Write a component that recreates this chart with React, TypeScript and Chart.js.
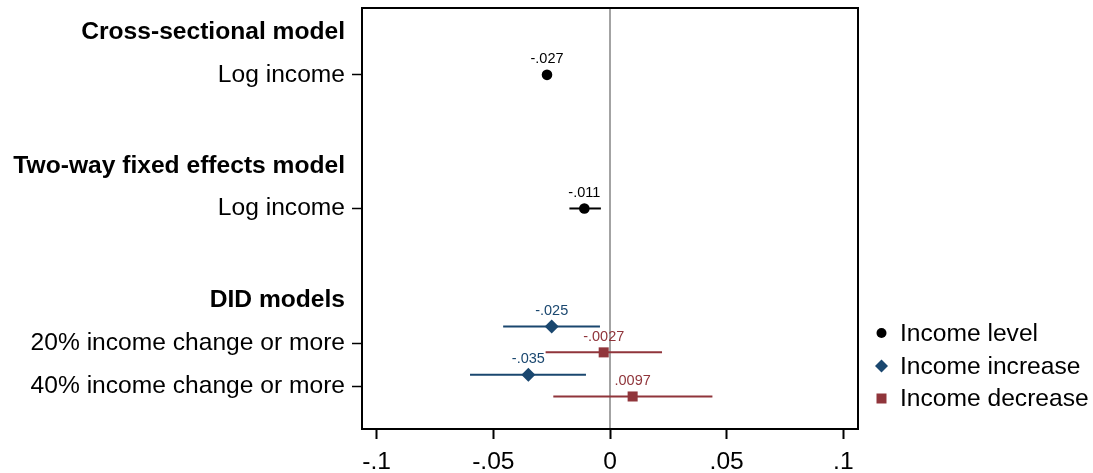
import React, { useEffect, useRef } from 'react';
import { Chart, registerables } from 'chart.js';

Chart.register(...registerables);

// ---- Data ----
const rowLabels = [
  'Cross-sectional model',
  'Log income',
  'Two-way fixed effects model',
  'Log income',
  'DID models',
  '20% income change or more',
  '40% income change or more',
];
const rowPositions = [0.55, 1.5, 3.55, 4.5, 6.55, 7.52, 8.5];
const headerRows = [true, false, true, false, true, false, false];

const xTickValues = [-0.1, -0.05, 0, 0.05, 0.1];
const xTickLabels = ['-.1', '-.05', '0', '.05', '.1'];

const levelRows = [1.5, 4.5];
const levelEst = [-0.027, -0.011];
const levelLo = [-0.0288, -0.0174];
const levelHi = [-0.0252, -0.0039];

const increaseRows = [7.15, 8.23];
const increaseEst = [-0.025, -0.035];
const increaseLo = [-0.0458, -0.06];
const increaseHi = [-0.0043, -0.0103];

const decreaseRows = [7.73, 8.72];
const decreaseEst = [-0.0027, 0.0097];
const decreaseLo = [-0.0276, -0.0243];
const decreaseHi = [0.0223, 0.0439];

const seriesNames = ['Income level', 'Income increase', 'Income decrease'];
const seriesColors = ['#000000', '#1a476f', '#90353b'];
const seriesStyles = ['circle', 'rectRot', 'rect'];
const seriesRadius = [5.3, 7, 7.1];

const FONT = "Arial, 'Liberation Sans', sans-serif";
const FS = 24.6;

const fmt = (v: number) => String(v).replace('0.', '.');

const drawMarker = (ctx: CanvasRenderingContext2D, style: string, x: number, y: number, r: number) => {
  ctx.beginPath();
  if (style === 'circle') {
    ctx.arc(x, y, r, 0, Math.PI * 2);
  } else if (style === 'rectRot') {
    ctx.moveTo(x, y - r);
    ctx.lineTo(x + r, y);
    ctx.lineTo(x, y + r);
    ctx.lineTo(x - r, y);
    ctx.closePath();
  } else {
    ctx.rect(x - r, y - r, 2 * r, 2 * r);
  }
  ctx.fill();
};

const ciPlugin = {
  id: 'ciPlugin',
  beforeDatasetsDraw(chart: any) {
    const { ctx, chartArea, scales } = chart;
    const xs = scales.x;
    const ys = scales.y;
    ctx.save();
    const x0 = xs.getPixelForValue(0);
    ctx.strokeStyle = '#a3a3a3';
    ctx.lineWidth = 2;
    ctx.beginPath();
    ctx.moveTo(x0, chartArea.top);
    ctx.lineTo(x0, chartArea.bottom);
    ctx.stroke();
    chart.data.datasets.forEach((ds: any) => {
      ctx.strokeStyle = ds.borderColor;
      ctx.lineWidth = 2;
      ds.data.forEach((p: any, i: number) => {
        const y = ys.getPixelForValue(p.y);
        ctx.beginPath();
        ctx.moveTo(xs.getPixelForValue(ds.lo[i]), y);
        ctx.lineTo(xs.getPixelForValue(ds.hi[i]), y);
        ctx.stroke();
      });
    });
    ctx.restore();
  },
  afterDatasetsDraw(chart: any) {
    const { ctx, scales } = chart;
    ctx.save();
    ctx.font = `14.5px ${FONT}`;
    ctx.textAlign = 'center';
    ctx.textBaseline = 'middle';
    chart.data.datasets.forEach((ds: any) => {
      ctx.fillStyle = ds.borderColor;
      ds.data.forEach((p: any) => {
        const x = scales.x.getPixelForValue(p.x);
        const y = scales.y.getPixelForValue(p.y);
        ctx.fillText(fmt(p.x), x, y - 15.5);
      });
    });
    ctx.restore();
  },
  afterDraw(chart: any) {
    const { ctx, chartArea } = chart;
    ctx.save();
    ctx.strokeStyle = '#000';
    ctx.lineWidth = 2;
    ctx.strokeRect(chartArea.left, chartArea.top, chartArea.right - chartArea.left, chartArea.bottom - chartArea.top);
    const lx = 881.5;
    const tx = 900;
    const ly = [333, 366, 398.5];
    const lr = [5, 6.5, 5];
    ctx.font = `${FS}px ${FONT}`;
    ctx.textAlign = 'left';
    ctx.textBaseline = 'middle';
    seriesNames.forEach((name, i) => {
      ctx.fillStyle = seriesColors[i];
      drawMarker(ctx, seriesStyles[i], lx, ly[i], lr[i]);
      ctx.fillStyle = '#000';
      ctx.fillText(name, tx, ly[i] + 1);
    });
    ctx.restore();
  },
};

export default function App() {
  const ref = useRef<HTMLCanvasElement>(null);
  useEffect(() => {
    if (!ref.current) return;
    const mk = (rows: number[], est: number[]) => est.map((v, i) => ({ x: v, y: rows[i] }));
    const datasets: any[] = [
      { label: seriesNames[0], data: mk(levelRows, levelEst), lo: levelLo, hi: levelHi },
      { label: seriesNames[1], data: mk(increaseRows, increaseEst), lo: increaseLo, hi: increaseHi },
      { label: seriesNames[2], data: mk(decreaseRows, decreaseEst), lo: decreaseLo, hi: decreaseHi },
    ].map((d, i) => ({
      ...d,
      backgroundColor: seriesColors[i],
      borderColor: seriesColors[i],
      pointStyle: seriesStyles[i],
      pointRadius: seriesRadius[i],
      pointBorderWidth: 0,
      showLine: false,
    }));

    const chart = new Chart(ref.current, {
      type: 'scatter',
      data: { datasets },
      options: {
        animation: false,
        responsive: false,
        events: [],
        layout: { padding: { top: 8, right: 235, left: 0, bottom: 0 } },
        plugins: { legend: { display: false }, tooltip: { enabled: false } },
        scales: {
          x: {
            type: 'linear',
            min: -0.1063,
            max: 0.1063,
            afterBuildTicks: (s: any) => {
              s.ticks = xTickValues.map((v) => ({ value: v }));
            },
            afterFit: (s: any) => {
              s.height = 44;
              s.paddingLeft = 0;
              s.paddingRight = 0;
            },
            ticks: {
              autoSkip: false,
              maxRotation: 0,
              padding: 8,
              color: '#000',
              font: { family: FONT, size: FS },
              callback: (v: any) => {
                const i = xTickValues.findIndex((t) => Math.abs(t - Number(v)) < 1e-9);
                return i >= 0 ? xTickLabels[i] : '';
              },
            },
            grid: { drawOnChartArea: false, tickLength: 10, tickColor: '#000', tickWidth: 2 },
            border: { display: false },
          },
          y: {
            type: 'linear',
            reverse: true,
            min: 0,
            max: 9.45,
            afterBuildTicks: (s: any) => {
              s.ticks = rowPositions.map((v) => ({ value: v }));
            },
            afterFit: (s: any) => {
              s.width = 362;
              s.paddingTop = 0;
              s.paddingBottom = 0;
            },
            ticks: {
              autoSkip: false,
              padding: 7,
              color: '#000',
              font: (ctx: any) => {
                const i = rowPositions.indexOf(ctx.tick?.value);
                return { family: FONT, size: FS, weight: i >= 0 && headerRows[i] ? 'bold' : 'normal' };
              },
              callback: (v: any) => {
                const i = rowPositions.indexOf(Number(v));
                return i >= 0 ? rowLabels[i] : '';
              },
            },
            grid: {
              drawOnChartArea: false,
              tickLength: 10,
              tickWidth: 1.5,
              tickColor: (ctx: any) => {
                const i = rowPositions.indexOf(ctx.tick?.value);
                return i >= 0 && headerRows[i] ? 'rgba(0,0,0,0)' : '#000';
              },
            },
            border: { display: false },
          },
        },
      } as any,
      plugins: [ciPlugin],
    });
    return () => chart.destroy();
  }, []);

  return (
    <div style={{ position: 'absolute', left: 0, top: 0, width: 1093, height: 473, background: '#fff' }}>
      <canvas ref={ref} width={1093} height={473} style={{ display: 'block', width: 1093, height: 473 }} />
    </div>
  );
}
